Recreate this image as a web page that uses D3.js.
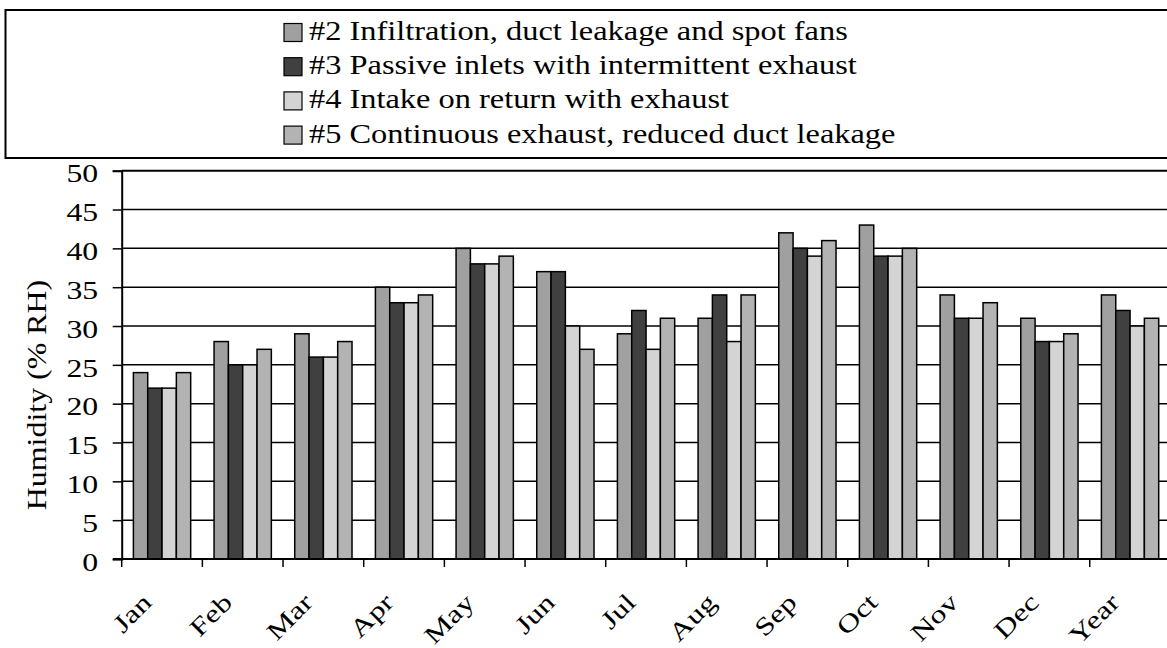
<!DOCTYPE html>
<html>
<head>
<meta charset="utf-8">
<script src="https://cdn.jsdelivr.net/npm/d3@7"></script>
<style>
  body { margin: 0; background: #fff; }
  svg { display: block; font-family: "Liberation Serif", "Times New Roman", serif; }
</style>
</head>
<body>
<svg id="chart" width="1167" height="648"></svg>
<script>
const months = ['Jan', 'Feb', 'Mar', 'Apr', 'May', 'Jun', 'Jul', 'Aug', 'Sep', 'Oct', 'Nov', 'Dec', 'Year'];
const seriesNames = [
    '#2 Infiltration, duct leakage and spot fans',
    '#3 Passive inlets with intermittent exhaust',
    '#4 Intake on return with exhaust',
    '#5 Continuous exhaust, reduced duct leakage'
];
const infiltration = [24, 28, 29, 35, 40, 37, 29, 31, 42, 43, 34, 31, 34];
const passiveInlets = [22, 25, 26, 33, 38, 37, 32, 34, 40, 39, 31, 28, 32];
const intakeReturn = [22, 25, 26, 33, 38, 30, 27, 28, 39, 39, 31, 28, 30];
const continuousExhaust = [24, 27, 28, 34, 39, 27, 31, 34, 41, 40, 33, 29, 31];
const yTicks = [0, 5, 10, 15, 20, 25, 30, 35, 40, 45, 50];
const fills = ['#a0a0a0', '#404040', '#d4d4d4', '#b3b3b3'];

const allSeries = [infiltration, passiveInlets, intakeReturn, continuousExhaust];

var svg = d3.select('#chart');

var margin = { left: 121.7, right: 1170.4, top: 170.7, bottom: 559 };

var x = d3.scaleBand()
    .domain(months)
    .range([margin.left, margin.right])
    .paddingInner(0.29)
    .paddingOuter(0.145);

// category band without padding, for ticks and label positions
var xCat = d3.scaleBand()
    .domain(months)
    .range([margin.left, margin.right]);

var xSub = d3.scaleBand()
    .domain(d3.range(allSeries.length))
    .range([0, x.bandwidth()]);

var y = d3.scaleLinear()
    .domain([0, 50])
    .range([margin.bottom, margin.top]);

// Legend box (runs off the right edge like the original)
svg.append('rect')
    .attr('x', 5.5)
    .attr('y', 10)
    .attr('width', 1200)
    .attr('height', 148)
    .attr('fill', 'white')
    .attr('stroke', 'black')
    .attr('stroke-width', 2);

var legend = svg.append('g');
seriesNames.forEach(function (name, i) {
    var row = legend.append('g')
        .attr('transform', 'translate(284,' + (23.5 + i * 34.2) + ')');
    row.append('rect')
        .attr('width', 18)
        .attr('height', 18)
        .attr('fill', fills[i])
        .attr('stroke', 'black')
        .attr('stroke-width', 1.2);
    row.append('text')
        .attr('transform', 'translate(25,16.5) scale(1.2,1)')
        .style('font-size', '27px')
        .text(name);
});

// Gridlines
svg.append('g')
    .selectAll('line')
    .data(yTicks.filter(d => d > 0))
    .enter()
    .append('line')
    .attr('x1', margin.left)
    .attr('x2', 1200)
    .attr('y1', d => y(d))
    .attr('y2', d => y(d))
    .attr('stroke', 'black')
    .attr('stroke-width', d => d === 50 ? 2 : 1.5);

// Bars
var groups = svg.append('g')
    .selectAll('g')
    .data(months)
    .enter()
    .append('g')
    .attr('transform', d => 'translate(' + x(d) + ',0)');

groups.selectAll('rect')
    .data((m, mi) => allSeries.map((s, si) => ({ si: si, value: s[mi] })))
    .enter()
    .append('rect')
    .attr('x', d => xSub(d.si))
    .attr('y', d => y(d.value))
    .attr('width', xSub.bandwidth())
    .attr('height', d => y(0) - y(d.value))
    .attr('fill', d => fills[d.si])
    .attr('stroke', 'black')
    .attr('stroke-width', 1.5);

// Y axis
var yAxis = d3.axisLeft(y)
    .tickValues(yTicks)
    .tickSize(9)
    .tickPadding(14);
var yG = svg.append('g')
    .attr('transform', 'translate(' + margin.left + ',0)')
    .call(yAxis);
yG.select('.domain').attr('stroke', 'black').attr('stroke-width', 2);
yG.selectAll('.tick line').attr('stroke', 'black').attr('stroke-width', 1.5);
yG.selectAll('.tick text')
    .attr('x', 0)
    .attr('dy', '0.45em')
    .attr('transform', 'translate(-23.5,0) scale(1.27,1)')
    .style('font-size', '25px')
    .style('font-family', '"Liberation Serif", "Times New Roman", serif')
    .attr('fill', 'black');

// X axis line and ticks at category boundaries
svg.append('line')
    .attr('x1', 113)
    .attr('x2', 1200)
    .attr('y1', y(0))
    .attr('y2', y(0))
    .attr('stroke', 'black')
    .attr('stroke-width', 2);

svg.append('g')
    .selectAll('line')
    .data(months)
    .enter()
    .append('line')
    .attr('x1', d => xCat(d))
    .attr('x2', d => xCat(d))
    .attr('y1', y(0))
    .attr('y2', y(0) + 8)
    .attr('stroke', 'black')
    .attr('stroke-width', 1.5);

// X labels, rotated
svg.append('g')
    .selectAll('text')
    .data(months)
    .enter()
    .append('text')
    .attr('transform', d => 'translate(' + (xCat(d) + xCat.bandwidth() / 2 - 9) + ',' + (y(0) + 45) + ') rotate(-45) scale(1.28,1)')
    .attr('text-anchor', 'end')
    .style('font-size', '25px')
    .text(d => d);

// Y title
svg.append('text')
    .attr('transform', 'translate(37,395) rotate(-90) scale(1.14,1)')
    .attr('text-anchor', 'middle')
    .attr('dy', '0.32em')
    .style('font-size', '28px')
    .text('Humidity (% RH)');
</script>
</body>
</html>
